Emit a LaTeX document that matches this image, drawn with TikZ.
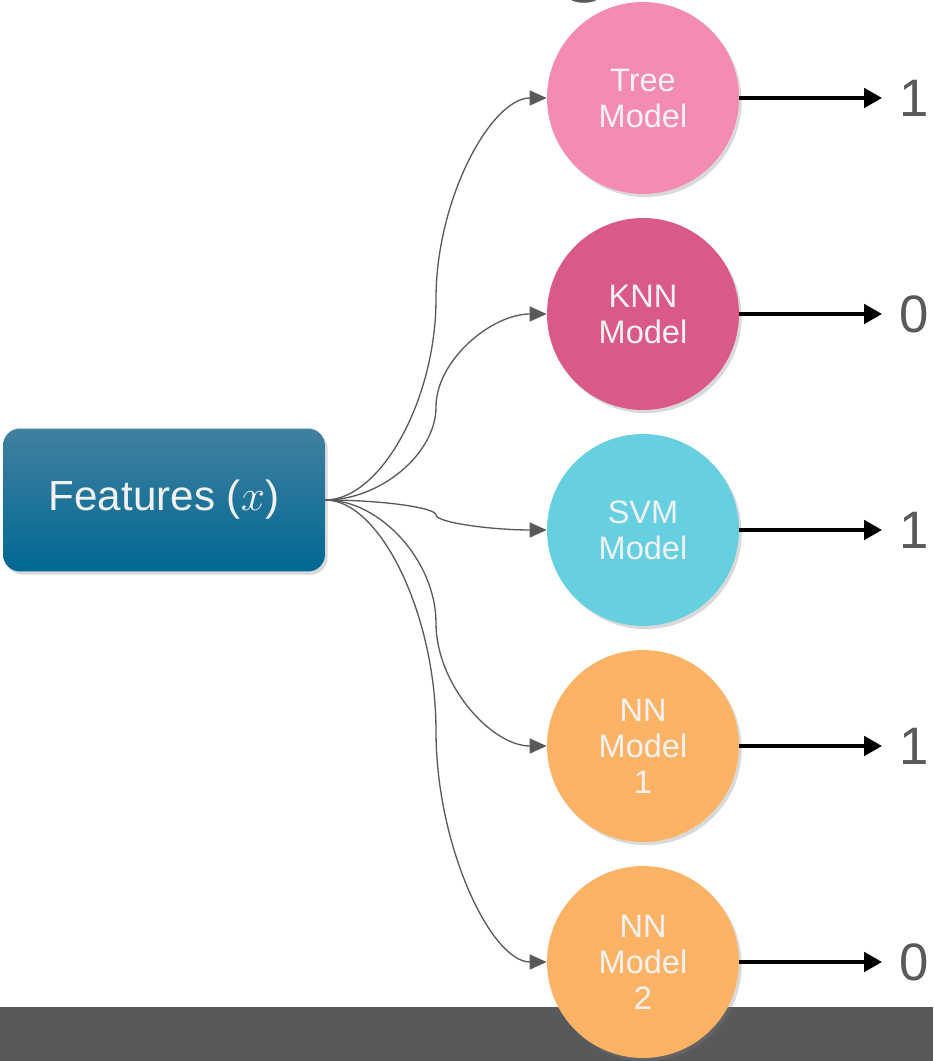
\documentclass[tikz,border=0pt]{standalone}
\usepackage{fontspec}
\setmainfont{Liberation Sans}
\usetikzlibrary{arrows.meta,calc,shadows}

\definecolor{treepink}{HTML}{F48BB2}
\definecolor{knnrose}{HTML}{D95A89}
\definecolor{svmcyan}{HTML}{66D0E1}
\definecolor{nnorange}{HTML}{FDB365}
\definecolor{boxtop}{HTML}{41809F}
\definecolor{boxbottom}{HTML}{006894}
\definecolor{inkgray}{HTML}{595959}
\definecolor{bargray}{HTML}{58595B}
\definecolor{paleink}{HTML}{F2F2F2}

\begin{document}
\begin{tikzpicture}[
	x=0.02cm, y=0.02cm,
	model/.style={circle, minimum size=3.84cm, inner sep=0pt, align=center,
		text=paleink, font=\fontsize{18.5}{20.5}\selectfont,
		drop shadow={shadow xshift=1.5pt, shadow yshift=-1.8pt, opacity=0.3}},
	feature/.style={rounded corners=0.34cm, minimum width=6.44cm, minimum height=2.86cm,
		top color=boxtop, bottom color=boxbottom, text=paleink,
		font=\fontsize{24}{29}\selectfont,
		drop shadow={shadow xshift=1.5pt, shadow yshift=-1.8pt, opacity=0.3}},
	elbow/.style={to path={let \p1=(\tikztostart), \p2=(\tikztotarget) in
		.. controls ({0.75*\x1+0.25*\x2},\y1) and ({0.5*\x1+0.5*\x2},{0.75*\y1+0.25*\y2})
		.. ({0.5*\x1+0.5*\x2},{0.5*\y1+0.5*\y2})
		.. controls ({0.5*\x1+0.5*\x2},{0.25*\y1+0.75*\y2}) and ({0.25*\x1+0.75*\x2},\y2)
		.. (\tikztotarget) \tikztonodes}},
	link/.style={draw=inkgray, line width=0.75pt, -{Triangle[length=0.34cm, width=0.3cm]}, elbow},
	vote/.style={line width=2.6pt, shorten >=0.22cm, -{Triangle[length=0.36cm, width=0.38cm]}},
	result/.style={text=inkgray, font=\fontsize{30}{36}\selectfont},
]
	\useasboundingbox (0,0) rectangle (933,1061);

	\fill[bargray] (0,0) rectangle (933,54);
	\node[anchor=base, text=inkgray, font=\fontsize{57}{60}\selectfont] (title) at (585,1078) {g};

	\node[feature] (feat) at (164,561) {Features (\(x\))};

	\node[model, fill=treepink] (tree) at (643,963) {Tree\\Model};
	\node[model, fill=knnrose] (knn) at (643,747) {KNN\\Model};
	\node[model, fill=svmcyan] (svm) at (643,531) {SVM\\Model};
	\node[model, fill=nnorange] (nna) at (643,315) {NN\\Model\\1};
	\node[model, fill=nnorange] (nnb) at (643,99) {NN\\Model\\2};

	\node[result] (ra) at (914,963) {1};
	\node[result] (rb) at (914,747) {0};
	\node[result] (rc) at (914,531) {1};
	\node[result] (rd) at (914,315) {1};
	\node[result] (re) at (914,99) {0};

	\draw[link] (feat.east) to (tree.west);
	\draw[link] (feat.east) to (knn.west);
	\draw[link] (feat.east) to (svm.west);
	\draw[link] (feat.east) to (nna.west);
	\draw[link] (feat.east) to (nnb.west);

	\draw[vote] (tree) -- (ra);
	\draw[vote] (knn) -- (rb);
	\draw[vote] (svm) -- (rc);
	\draw[vote] (nna) -- (rd);
	\draw[vote] (nnb) -- (re);
\end{tikzpicture}
\end{document}
